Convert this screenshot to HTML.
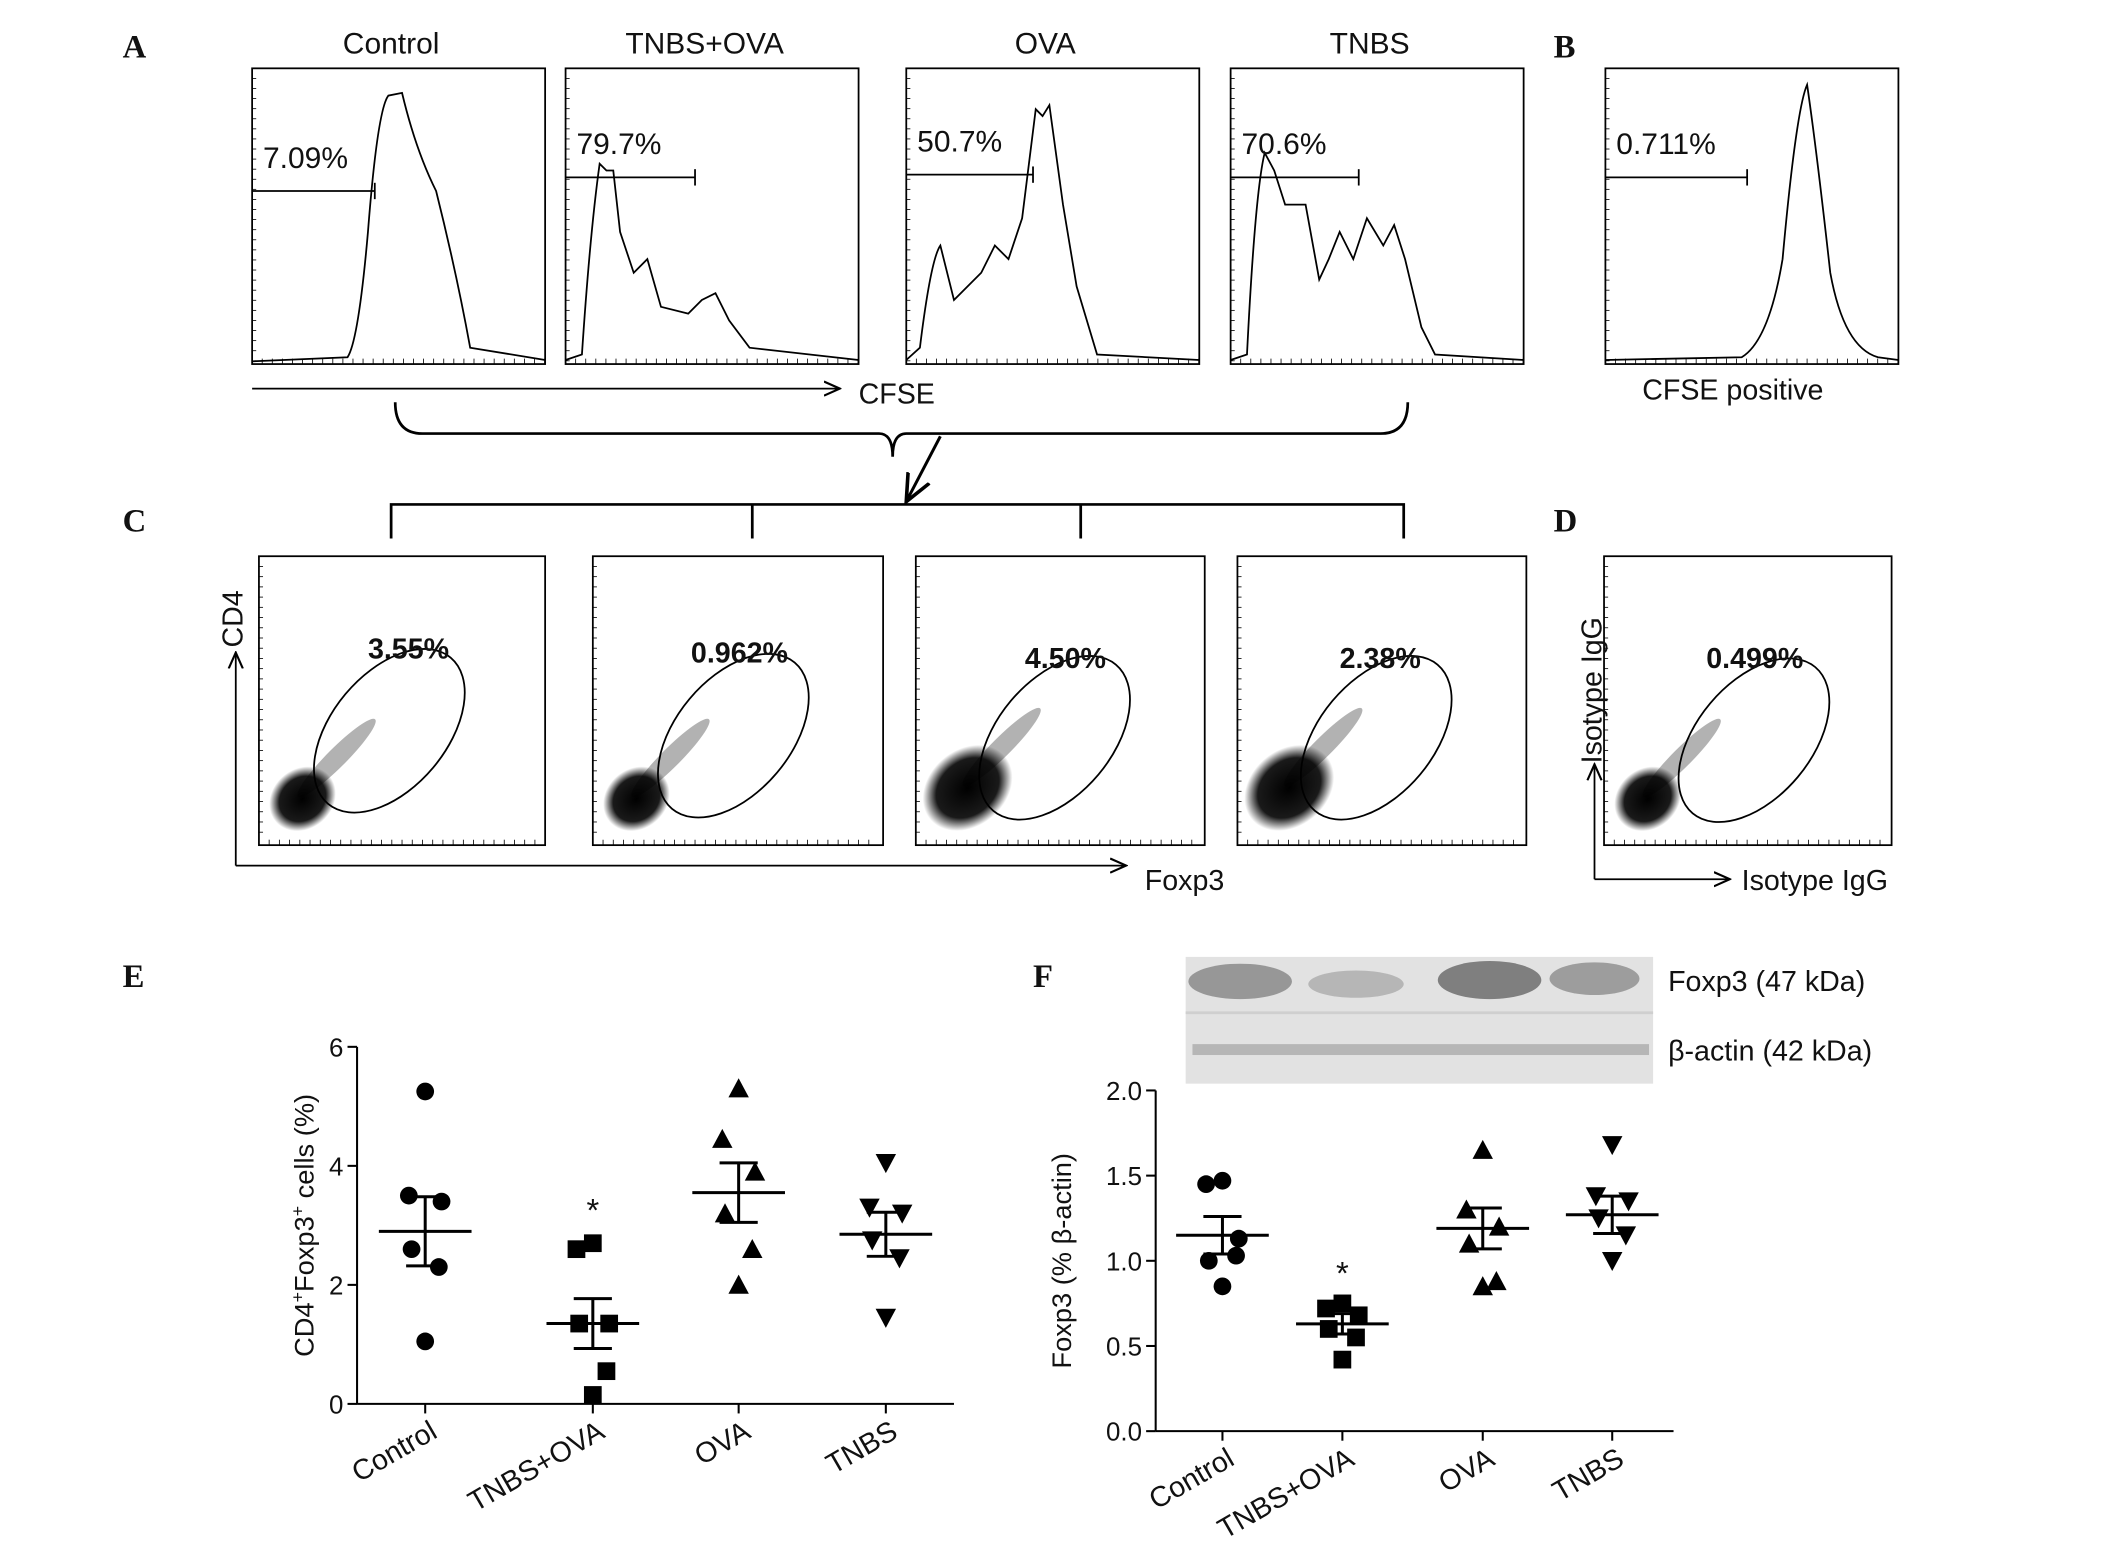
<!DOCTYPE html>
<html><head><meta charset="utf-8"><style>
html,body{margin:0;padding:0;background:#fff}
svg{display:block}
text{font-family:"Liberation Sans",sans-serif;fill:#111}
.pl{font-family:"Liberation Serif",serif;font-weight:bold;font-size:24px}
</style></head><body>
<svg id="fig" width="2126" height="1554" viewBox="0 0 1560 1140">
<defs>
<radialGradient id="dots"><stop offset="0" stop-color="#000" stop-opacity="1"/><stop offset="0.7" stop-color="#000" stop-opacity="0.9"/><stop offset="1" stop-color="#000" stop-opacity="0"/></radialGradient>
<marker id="ar" markerWidth="10" markerHeight="10" refX="8" refY="5" orient="auto"><path d="M0,1 L9,5 L0,9" fill="none" stroke="#000" stroke-width="1.2"/></marker>
</defs>
<text class="pl" x="90" y="42">A</text>
<text class="pl" x="1140" y="42">B</text>
<text class="pl" x="90" y="390">C</text>
<text class="pl" x="1140" y="390">D</text>
<text class="pl" x="90" y="724">E</text>
<text class="pl" x="758" y="724">F</text>
<g id="hist"></g>
<g id="dotplots"></g>
<line x1="185" y1="285" x2="615" y2="285" stroke="#000" stroke-width="1.3" marker-end="url(#ar)"/>
<text x="630" y="296" font-size="21">CFSE</text>
<text x="1205" y="293" font-size="21">CFSE positive</text>
<path d="M290,295 Q290,318 310,318 L645,318 Q655,318 655,335 Q655,318 665,318 L1013,318 Q1033,318 1033,295" fill="none" stroke="#000" stroke-width="2"/>
<line x1="690" y1="320" x2="666" y2="366" stroke="#000" stroke-width="2.2" marker-end="url(#ar)"/>
<path d="M287,395 L287,370 L1030,370 L1030,395 M552,370 L552,395 M793,370 L793,395" fill="none" stroke="#000" stroke-width="2"/>
<path d="M173,635 L173,480" stroke="#000" stroke-width="1.3" marker-end="url(#ar)"/>
<path d="M173,635 L825,635" stroke="#000" stroke-width="1.3" marker-end="url(#ar)"/>
<text transform="translate(178,475) rotate(-90)" font-size="21">CD4</text>
<text x="840" y="653" font-size="21">Foxp3</text>
<path d="M1170,645 L1170,562" stroke="#000" stroke-width="1.3" marker-end="url(#ar)"/>
<path d="M1170,645 L1268,645" stroke="#000" stroke-width="1.3" marker-end="url(#ar)"/>
<text transform="translate(1175,560) rotate(-90)" font-size="21">Isotype IgG</text>
<text x="1278" y="653" font-size="21">Isotype IgG</text>
<g>
<rect x="870" y="702" width="343" height="93" fill="#e2e2e2"/>
<rect x="870" y="742" width="343" height="2" fill="#cfcfcf"/>
<ellipse cx="910" cy="720" rx="38" ry="13" fill="#7e7e7e" opacity="0.75"/>
<ellipse cx="995" cy="722" rx="35" ry="10" fill="#999" opacity="0.6"/>
<ellipse cx="1093" cy="719" rx="38" ry="14" fill="#666" opacity="0.8"/>
<ellipse cx="1170" cy="718" rx="33" ry="12" fill="#808080" opacity="0.7"/>
<rect x="875" y="766" width="335" height="8" fill="#999" opacity="0.6"/>
</g>
<text x="1224" y="727" font-size="21">Foxp3 (47 kDa)</text>
<text x="1224" y="778" font-size="21">β-actin (42 kDa)</text>
</svg>
<script>
const NS="http://www.w3.org/2000/svg";
const svg=document.getElementById('fig');
function mk(tag,attrs,parent){const e=document.createElementNS(NS,tag);for(const k in attrs)e.setAttribute(k,attrs[k]);(parent||svg).appendChild(e);return e;}

const histTitles=["Control","TNBS+OVA","OVA","TNBS",""];
const histPct=["7.09%","79.7%","50.7%","70.6%","0.711%"];
const histX=[185,415,665,903,1178];
const gateEnd=[275,510,758,997,1282];
const gateY=[90,80,78,80,80];
const histPaths=[
"M0,215 L70,212 Q78,200 85,120 Q92,30 100,20 L110,18 Q120,60 135,90 Q150,150 160,205 L215,214",
"M0,214 L12,210 Q18,120 25,70 L30,75 L35,75 L40,120 L50,150 L60,140 L70,175 L90,180 L100,170 L110,165 L120,185 L135,205 L215,214",
"M0,214 L10,205 Q18,140 25,130 L35,170 L45,160 L55,150 L65,130 L75,140 L85,110 L95,30 L100,35 L105,27 L115,100 L125,160 L140,210 L215,214",
"M0,214 L12,210 Q18,90 25,62 L32,75 L40,100 L55,100 L65,155 L72,140 L80,120 L90,140 L100,110 L112,130 L120,115 L128,140 L140,190 L150,210 L215,214",
"M0,214 L100,212 Q120,200 130,140 Q140,30 148,12 Q155,60 165,150 Q175,205 200,212 L215,214"];
const hg=document.getElementById('hist');
histX.forEach((x,i)=>{
  const g=mk('g',{transform:`translate(${x},50)`},hg);
  
  
  mk('rect',{x:0,y:0,width:215,height:217,fill:'none',stroke:'#000','stroke-width':1.3},g);
  for(let t=0;t<30;t++){mk('line',{x1:t*7.4,y1:217,x2:t*7.4,y2:213,stroke:'#000','stroke-width':0.6},g);mk('line',{x1:0,y1:t*7.4,x2:3,y2:t*7.4,stroke:'#000','stroke-width':0.6},g);}
  mk('path',{d:histPaths[i],fill:'none',stroke:'#000','stroke-width':1.3},g);
  const gy=gateY[i];
  mk('line',{x1:0,y1:gy,x2:gateEnd[i]-x,y2:gy,stroke:'#000','stroke-width':1.3},g);
  mk('line',{x1:gateEnd[i]-x,y1:gy-6,x2:gateEnd[i]-x,y2:gy+6,stroke:'#000','stroke-width':1.3},g);
  const t=mk('text',{x:8,y:gy-17,'font-size':22},g);t.textContent=histPct[i];
  if(histTitles[i]){const tt=mk('text',{x:102,y:-11,'font-size':22,'text-anchor':'middle'},g);tt.textContent=histTitles[i];}
});

const dpX=[190,435,672,908,1177];
const dpPct=["3.55%","0.962%","4.50%","2.38%","0.499%"];
const dpW=[210,213,212,212,211];
const dg=document.getElementById('dotplots');
dpX.forEach((x,i)=>{
  const g=mk('g',{transform:`translate(${x},408)`},dg);
  
  
  mk('rect',{x:0,y:0,width:dpW[i],height:212,fill:'none',stroke:'#000','stroke-width':1.3},g);
  for(let t=0;t<28;t++){mk('line',{x1:t*7.5,y1:212,x2:t*7.5,y2:208,stroke:'#000','stroke-width':0.6},g);mk('line',{x1:0,y1:t*7.5,x2:3,y2:t*7.5,stroke:'#000','stroke-width':0.6},g);}
  const big=i==2||i==3;
  const cx=big?38:32, cy=big?170:178;
  mk('ellipse',{cx,cy,rx:big?36:26,ry:big?28:22,fill:'url(#dots)',transform:`rotate(-40 ${cx} ${cy})`},g);
  mk('ellipse',{cx:cx+25,cy:cy-30,rx:40,ry:7,fill:'#000',opacity:0.3,transform:`rotate(-45 ${cx+25} ${cy-30})`},g);
  mk('ellipse',{cx:i==4?110:(i==1?100:98),cy:i==4?135:(i==0?127:135),rx:70,ry:42,fill:'none',stroke:'#000','stroke-width':1.3,transform:`rotate(-50 ${i==4?110:98} ${i==4?135:130})`},g);
  const t=mk('text',{x:[80,72,80,75,75][i],y:[75,78,82,82,82][i],'font-size':21,'font-weight':'bold'},g);t.textContent=dpPct[i];
});

const eCategories=["Control","TNBS+OVA","OVA","TNBS"];
const eControl=[5.25,3.5,3.4,2.6,2.3,1.05];
const eTnbsOva=[2.7,2.6,1.35,1.35,0.55,0.15];
const eOva=[5.3,4.45,3.9,3.2,2.6,2.0];
const eTnbs=[4.05,3.3,3.2,2.75,2.45,1.45];
const eMeans=[2.9,1.35,3.55,2.85];
const eSem=[0.58,0.42,0.5,0.37];
const eTicks=[0,2,4,6];
const fCategories=["Control","TNBS+OVA","OVA","TNBS"];
const fControl=[1.47,1.45,1.13,1.0,1.03,0.85];
const fTnbsOva=[0.75,0.72,0.68,0.6,0.55,0.42];
const fOva=[1.65,1.3,1.2,1.1,0.88,0.85];
const fTnbs=[1.68,1.38,1.35,1.25,1.15,1.0];
const fMeans=[1.15,0.63,1.19,1.27];
const fSem=[0.11,0.06,0.12,0.11];
const fTicks=[0,0.5,1.0,1.5,2.0];
const fTickLabels=["0.0","0.5","1.0","1.5","2.0"];
const jitter=[0,-12,12,-10,10,0];

function marker(g,shape,cx,cy){
  const s=6.5;
  if(shape==0)return mk('circle',{cx,cy,r:s},g);
  if(shape==1)return mk('rect',{x:cx-s,y:cy-s,width:2*s,height:2*s},g);
  if(shape==2)return mk('path',{d:`M${cx},${cy-s-1} L${cx+s+1},${cy+s} L${cx-s-1},${cy+s}Z`},g);
  return mk('path',{d:`M${cx},${cy+s+1} L${cx+s+1},${cy-s} L${cx-s-1},${cy-s}Z`},g);
}
function dotPlot(opt){
  const g=mk('g',{});
  
  
  const y=v=>opt.y0-(v-opt.min)/(opt.max-opt.min)*(opt.y0-opt.y1);
  const x=i=>opt.xs[i];
  mk('line',{x1:opt.ax,y1:y(opt.max),x2:opt.ax,y2:opt.y0,stroke:'#000','stroke-width':1.5},g);
  mk('line',{x1:opt.ax,y1:opt.y0,x2:opt.axEnd,y2:opt.y0,stroke:'#000','stroke-width':1.5},g);
  opt.ticks.forEach((t,k)=>{
    mk('line',{x1:opt.ax-7,y1:y(t),x2:opt.ax,y2:y(t),stroke:'#000','stroke-width':1.5},g);
    const tx=mk('text',{x:opt.ax-10,y:y(t)+7,'font-size':19,'text-anchor':'end'},g);
    tx.textContent=opt.tickLabels[k];
  });
  opt.cats.forEach((c,i)=>{
    mk('line',{x1:x(i),y1:opt.y0,x2:x(i),y2:opt.y0+7,stroke:'#000','stroke-width':1.5},g);
    const tx=mk('text',{x:x(i)+10,y:opt.y0+24,'font-size':21,'text-anchor':'end',transform:`rotate(-30 ${x(i)+10} ${opt.y0+24})`},g);
    tx.textContent=c;
    
    
    opt.series[i].forEach((v,j)=>{
      const m=marker(g,i,x(i)+jitter[j],y(v));
      
      
    });
    const mn=opt.means[i],se=opt.sem[i];
    mk('line',{x1:x(i)-34,y1:y(mn),x2:x(i)+34,y2:y(mn),stroke:'#000','stroke-width':2.2},g);
    mk('line',{x1:x(i),y1:y(mn-se),x2:x(i),y2:y(mn+se),stroke:'#000','stroke-width':2.2},g);
    mk('line',{x1:x(i)-14,y1:y(mn+se),x2:x(i)+14,y2:y(mn+se),stroke:'#000','stroke-width':2.2},g);
    mk('line',{x1:x(i)-14,y1:y(mn-se),x2:x(i)+14,y2:y(mn-se),stroke:'#000','stroke-width':2.2},g);
  });
  const st=mk('text',{x:x(1),y:y(Math.max(...opt.series[1]))-opt.starOff,'font-size':24,'text-anchor':'middle'},g);
  st.textContent='*';
  const yl=mk('text',{transform:`translate(${opt.ax-opt.ylOff},${(opt.y0+y(opt.max))/2}) rotate(-90)`,'font-size':20,'text-anchor':'middle'},g);
  yl.innerHTML=opt.ylabel;
  
  
}
dotPlot({name:'panel-e-chart',ax:262,axEnd:700,y0:1030,y1:768,min:0,max:6,xs:[312,435,542,650],
  ticks:eTicks,tickLabels:eTicks.map(String),cats:eCategories,series:[eControl,eTnbsOva,eOva,eTnbs],
  means:eMeans,sem:eSem,starOff:16,ylOff:32,ylabel:'CD4<tspan baseline-shift="super" font-size="13">+</tspan>Foxp3<tspan baseline-shift="super" font-size="13">+</tspan> cells (%)'});
dotPlot({name:'panel-f-chart',ax:848,axEnd:1228,y0:1050,y1:800,min:0,max:2,xs:[897,985,1088,1183],
  ticks:fTicks,tickLabels:fTickLabels,cats:fCategories,series:[fControl,fTnbsOva,fOva,fTnbs],
  means:fMeans,sem:fSem,starOff:14,ylOff:62,ylabel:'Foxp3 (% β-actin)'});
</script>
</body></html>
